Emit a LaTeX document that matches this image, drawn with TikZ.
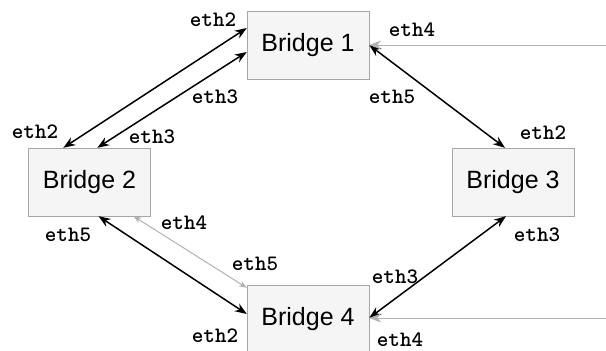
\documentclass[tikz,border=0pt]{standalone}
\usepackage{fontspec}
\setmainfont{Liberation Sans}
\usetikzlibrary{arrows.meta}
\begin{document}
\begin{tikzpicture}[x=1pt,y=-1pt,>={Stealth[length=12pt,width=9pt]},
    bridge/.style={draw=black!35,fill=black!4,minimum width=122pt,minimum height=68pt,inner sep=0pt,font=\fontsize{25}{25}\selectfont},
    port/.style={font=\fontsize{22}{22}\selectfont\ttfamily\bfseries,inner sep=0pt},
    link/.style={<->,line width=1.5pt},
    weak/.style={<->,draw=black!30,line width=1pt,>={Stealth[length=8pt,width=6pt]}}]
    \useasboundingbox (0,0) rectangle (606,351);

    % bridges
    \node[bridge] (b1) at (308,45) {Bridge 1};
    \node[bridge] (b2) at (89.5,182) {Bridge 2};
    \node[bridge] (b3) at (513,182) {Bridge 3};
    \node[bridge] (b4) at (308,319) {Bridge 4};
    \coordinate (in1) at (606,45);
    \coordinate (in4) at (606,318);

    % links
    \draw[link] ([xshift=35pt]b2.north west) -- ([yshift=17pt]b1.west);
    \draw[link] ([xshift=69pt]b2.north west) -- ([yshift=-7pt]b1.west);
    \draw[link] (b1.east) -- ([xshift=-8pt]b3.north);
    \draw[link] ([xshift=9pt]b2.south) -- ([yshift=5pt]b4.west);
    \draw[weak] ([xshift=44pt]b2.south) -- ([yshift=-3pt]b4.north west);
    \draw[link] ([xshift=-7pt]b3.south) -- ([yshift=1pt]b4.east);
    \draw[->,draw=black!30,line width=1pt] (in1) -- (b1.east);
    \draw[->,draw=black!30,line width=1pt] (in4) -- ([yshift=1pt]b4.east);

    % ports
    \node[port] (p12) at (213,20) {eth2};
    \node[port] (p13) at (215,97) {eth3};
    \node[port] (p14) at (412,30) {eth4};
    \node[port] (p15) at (392,97) {eth5};
    \node[port] (p22) at (35,132) {eth2};
    \node[port] (p23) at (152,137) {eth3};
    \node[port] (p24) at (184,223) {eth4};
    \node[port] (p25) at (68,235) {eth5};
    \node[port] (p32) at (543,133) {eth2};
    \node[port] (p33) at (537,235) {eth3};
    \node[port] (p42) at (215,336) {eth2};
    \node[port] (p43) at (395,277) {eth3};
    \node[port] (p44) at (400,340) {eth4};
    \node[port] (p45) at (255,264) {eth5};
\end{tikzpicture}
\end{document}
